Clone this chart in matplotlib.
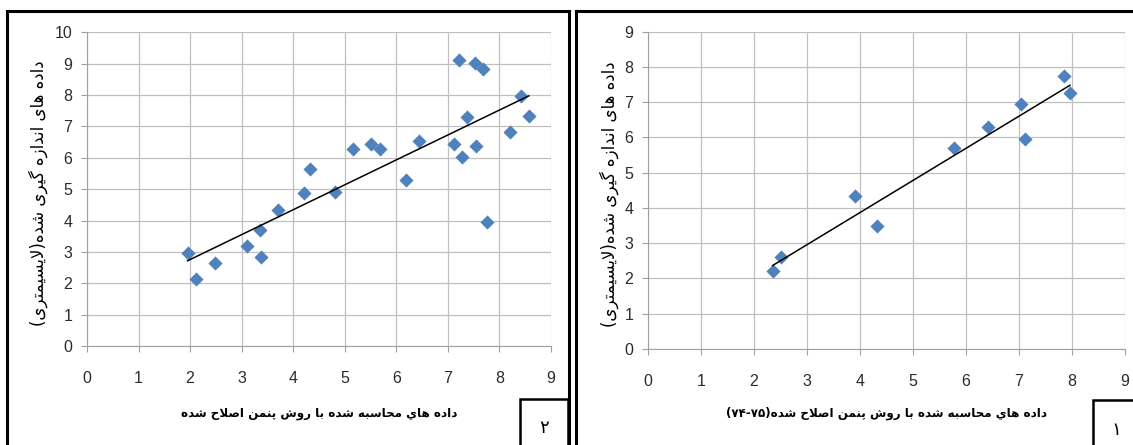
import matplotlib
matplotlib.use('Agg')
import matplotlib.pyplot as plt
import numpy as np
from matplotlib.patches import Rectangle

# panel 2 (left) - computed vs measured
x2 = [1.95, 2.11, 2.49, 3.11, 3.36, 3.37, 3.70, 4.21, 4.33, 4.82, 5.15, 5.51, 5.69,
      6.18, 6.43, 7.11, 7.22, 7.28, 7.37, 7.53, 7.54, 7.69, 7.76, 8.21, 8.42, 8.57]
y2 = [2.95, 2.14, 2.65, 3.20, 3.69, 2.85, 4.32, 4.88, 5.64, 4.90, 6.27, 6.43, 6.29,
      5.30, 6.55, 6.43, 9.12, 6.01, 7.29, 9.01, 6.38, 8.83, 3.96, 6.81, 7.97, 7.33]
# panel 1 (right)
x1 = [2.35, 2.50, 3.91, 4.33, 5.78, 6.42, 7.04, 7.11, 7.84, 7.96]
y1 = [2.22, 2.60, 4.35, 3.49, 5.69, 6.30, 6.96, 5.97, 7.74, 7.27]

ylab = 'داده های اندازه گیری شده(لایسیمتری)'
xlab2 = 'داده هاي محاسبه شده با روش پنمن اصلاح شده'
xlab1 = 'داده هاي محاسبه شده با روش پنمن اصلاح شده'
xlab1_years = '(۷۴-۷۵)'
panel_ids = ['۲', '۱']

# matplotlib does no arabic shaping, so pick presentation forms by hand
# (isolated, final, initial, medial)
FORMS = {
    'ا': (0xFE8D, 0xFE8E),
    'ب': (0xFE8F, 0xFE90, 0xFE91, 0xFE92),
    'پ': (0xFB56, 0xFB57, 0xFB58, 0xFB59),
    'ت': (0xFE95, 0xFE96, 0xFE97, 0xFE98),
    'ح': (0xFEA1, 0xFEA2, 0xFEA3, 0xFEA4),
    'د': (0xFEA9, 0xFEAA),
    'ر': (0xFEAD, 0xFEAE),
    'ز': (0xFEAF, 0xFEB0),
    'س': (0xFEB1, 0xFEB2, 0xFEB3, 0xFEB4),
    'ش': (0xFEB5, 0xFEB6, 0xFEB7, 0xFEB8),
    'ص': (0xFEB9, 0xFEBA, 0xFEBB, 0xFEBC),
    'گ': (0xFB92, 0xFB93, 0xFB94, 0xFB95),
    'ل': (0xFEDD, 0xFEDE, 0xFEDF, 0xFEE0),
    'م': (0xFEE1, 0xFEE2, 0xFEE3, 0xFEE4),
    'ن': (0xFEE5, 0xFEE6, 0xFEE7, 0xFEE8),
    'ه': (0xFEE9, 0xFEEA, 0xFEEB, 0xFEEC),
    'و': (0xFEED, 0xFEEE),
    '\u064A': (0xFEF1, 0xFEF2, 0xFEF3, 0xFEF4),
    '\u06CC': (0xFBFC, 0xFBFD, 0xFBFE, 0xFBFF),
    '\uFEFB': (0xFEFB, 0xFEFC),
}


def shape(text):
    text = text.replace('لا', '\uFEFB')
    out = []
    for i, ch in enumerate(text):
        if ch not in FORMS:
            out.append(ch)
            continue
        prev = text[i - 1] if i > 0 else ''
        nxt = text[i + 1] if i + 1 < len(text) else ''
        f = FORMS[ch]
        jp = prev in FORMS and len(FORMS[prev]) == 4
        jn = len(f) == 4 and nxt in FORMS
        if jp and jn:
            c = f[3]
        elif jp:
            c = f[1]
        elif jn:
            c = f[2]
        else:
            c = f[0]
        out.append(chr(c))
    s = ''.join(reversed(out))
    return s.replace('(', '\0').replace(')', '(').replace('\0', ')')


plt.rcParams['font.family'] = ['Liberation Sans', 'DejaVu Sans']
W, H = 1133, 445
fig = plt.figure(figsize=(W / 100, H / 100), dpi=100)

ax2 = fig.add_axes([87 / W, 1 - 346 / H, 464 / W, 313.7 / H])
ax1 = fig.add_axes([648 / W, 1 - 349 / H, 477 / W, 317.3 / H])

for ax, xs, ys, ymax in [(ax2, x2, y2, 10), (ax1, x1, y1, 9)]:
    ax.scatter(xs, ys, marker='D', s=52, color='#4f81bd', zorder=3, linewidths=0)
    k, b = np.polyfit(xs, ys, 1)
    xx = np.array([min(xs), max(xs)])
    ax.plot(xx, k * xx + b, color='black', lw=1.1, zorder=4)
    ax.set_xlim(0, 9)
    ax.set_ylim(0, ymax)
    ax.set_xticks(range(10))
    ax.set_yticks(range(ymax + 1))
    ax.grid(True, color='#c0c0c0', lw=0.9)
    ax.set_axisbelow(True)
    ax.spines['top'].set_visible(False)
    ax.spines['right'].set_visible(False)
    ax.spines['left'].set_color('#a0a0a0')
    ax.spines['bottom'].set_color('#a0a0a0')
    ax.tick_params(direction='out', length=4, color='#a0a0a0', labelsize=11.5,
                   labelcolor='#2b2b2b')
    ax.tick_params(axis='x', pad=14)
    ax.tick_params(axis='y', pad=6.5)

# axis titles
fig.text(38 / W, 1 - 193 / H, shape(ylab), rotation=90, ha='center', va='center',
         family=['DejaVu Sans'], fontsize=12)
fig.text(609 / W, 1 - 194 / H, shape(ylab), rotation=90, ha='center', va='center',
         family=['DejaVu Sans'], fontsize=12)
fig.text(319 / W, 1 - 413 / H, shape(xlab2), ha='center', va='center',
         family=['DejaVu Sans'], fontsize=8.6, fontweight='bold')
fig.text(887 / W, 1 - 413 / H, xlab1_years + shape(xlab1), ha='center', va='center',
         family=['DejaVu Sans'], fontsize=8.6, fontweight='bold')

# outer frames and numbered boxes
fig.add_artist(Rectangle((7 / W, -0.1), 562 / W, 1.1 - 11 / H, transform=fig.transFigure,
                         fill=False, lw=2.2, ec='black'))
fig.add_artist(Rectangle((576 / W, -0.1), 600 / W, 1.1 - 11 / H, transform=fig.transFigure,
                         fill=False, lw=2.2, ec='black'))
fig.add_artist(Rectangle((520 / W, -0.1), 48 / W, 0.1 + 1 - 399 / H, transform=fig.transFigure,
                         fill=False, lw=1.8, ec='black'))
fig.add_artist(Rectangle((1093 / W, -0.1), 60 / W, 0.1 + 1 - 400 / H, transform=fig.transFigure,
                         fill=False, lw=1.8, ec='black'))
fig.text(544 / W, 1 - 428 / H, panel_ids[0], ha='center', va='center',
         family=['DejaVu Sans'], fontsize=13)
fig.text(1116 / W, 1 - 430 / H, panel_ids[1], ha='center', va='center',
         family=['DejaVu Sans'], fontsize=13)

fig.savefig('out.png', dpi=100)
